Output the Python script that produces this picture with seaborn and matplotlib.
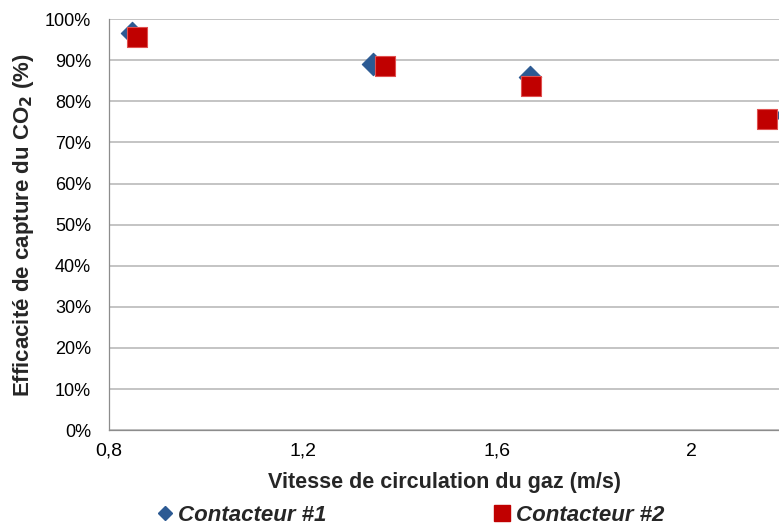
import numpy as np
import pandas as pd
import seaborn as sns
import matplotlib.pyplot as plt
from matplotlib.ticker import FuncFormatter

# Data
vitesse_1 = [0.847, 1.345, 1.667, 2.195]
efficacite_1 = [0.967, 0.892, 0.859, 0.766]
vitesse_2 = [0.858, 1.368, 1.669, 2.156]
efficacite_2 = [0.957, 0.886, 0.837, 0.757]
series = ['Contacteur #1', 'Contacteur #2']
x_ticks = [0.8, 1.2, 1.6, 2.0]
x_tick_labels = ['0,8', '1,2', '1,6', '2']
y_ticks = [i / 10 for i in range(11)]

data = pd.DataFrame({
    'Vitesse': vitesse_1 + vitesse_2,
    'Efficacite': efficacite_1 + efficacite_2,
    'Serie': [series[0]] * len(vitesse_1) + [series[1]] * len(vitesse_2),
})

sns.set_style('white')
plt.rcParams['font.family'] = ['Liberation Sans', 'DejaVu Sans']

fig = plt.figure(figsize=(7.79, 5.31), dpi=100)
ax = fig.add_axes([0.140, 0.190, 0.860, 0.774])

palette = {series[0]: '#2C5A93', series[1]: '#C00000'}
markers = {series[0]: 'D', series[1]: 's'}
for name, size, edge in [(series[0], 130, '#2C5A93'), (series[1], 200, '#E0504F')]:
    sub = data[data['Serie'] == name]
    sns.scatterplot(data=sub, x='Vitesse', y='Efficacite', color=palette[name],
                    marker=markers[name], s=size, edgecolor=edge, linewidth=0.8,
                    ax=ax, zorder=3, legend=False, clip_on=True)

ax.set_xlim(0.8, 2.181)
ax.set_ylim(0, 1.0)
ax.set_xticks(x_ticks)
ax.set_xticklabels(x_tick_labels)
ax.set_yticks(y_ticks)
ax.yaxis.set_major_formatter(FuncFormatter(lambda v, p: f'{v * 100:.0f}%'))
ax.tick_params(axis='y', labelsize=13, colors='#999999', labelcolor='black',
               length=8, width=0.9, direction='out', pad=5)
ax.tick_params(axis='x', labelsize=14, colors='#999999', labelcolor='black',
               length=3, width=0.9, direction='out', pad=6)
ax.yaxis.grid(True, color='#B4B4B4', lw=1.1)
ax.xaxis.grid(False)
for side in ['top', 'right']:
    ax.spines[side].set_visible(False)
for side in ['left', 'bottom']:
    ax.spines[side].set_color('#8C8C8C')
    ax.spines[side].set_linewidth(0.9)
ax.set_axisbelow(True)

ax.set_xlabel('Vitesse de circulation du gaz (m/s)', fontsize=15.5, fontweight='bold', labelpad=9)
ax.set_ylabel('Efficacité de capture du CO$_\\mathbf{2}$ (%)', fontsize=16, fontweight='bold', labelpad=6)

handles = [
    plt.Line2D([], [], marker='D', color=palette[series[0]], ls='', markersize=7),
    plt.Line2D([], [], marker='s', color=palette[series[1]], ls='', markersize=12),
]
fig.legend(handles, series, loc='center', bbox_to_anchor=(0.525, 0.03), ncol=2,
           frameon=False, handletextpad=0.1, columnspacing=7.4, handlelength=1.0,
           borderpad=0.2, prop={'size': 16, 'weight': 'bold', 'style': 'italic'})

fig.savefig('out.png', dpi=100)
